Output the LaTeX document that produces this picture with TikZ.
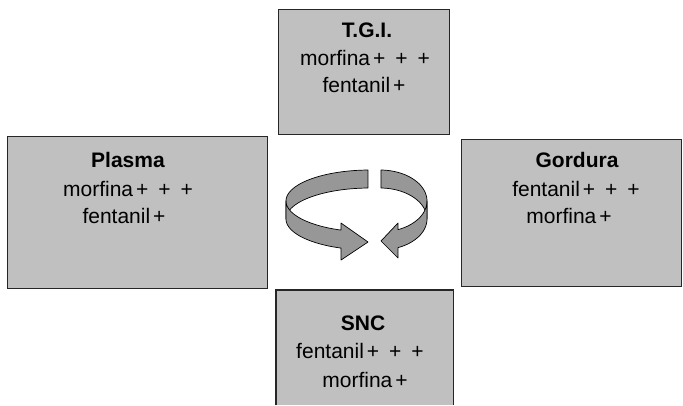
\documentclass[tikz,border=0pt]{standalone}
\usepackage{fontspec}
\setmainfont{Liberation Sans}
\definecolor{boxgray}{HTML}{C0C0C0}
\definecolor{arrgray}{HTML}{979797}
\begin{document}
\begin{tikzpicture}[x=1pt,y=-1pt,
  box/.style={rectangle, fill=boxgray, draw=black!85, line width=1.1pt, inner sep=0pt, anchor=north west},
  txt/.style={anchor=base, inner sep=0pt, font=\fontsize{21}{24}\selectfont},
  ttl/.style={txt, font=\fontsize{21}{24}\selectfont\bfseries},
  ribbon/.style={fill=arrgray, draw=black, line width=0.7pt, line join=round}]
\path[use as bounding box] (0,0) rectangle (683,405);
% boxes
\node[box, minimum width=171pt, minimum height=125pt] (tgi) at (278,9) {};
\node[box, minimum width=260pt, minimum height=152pt] (plasma) at (7,136) {};
\node[box, minimum width=220pt, minimum height=147pt] (gordura) at (461,139) {};
\node[rectangle, fill=boxgray, inner sep=0pt, anchor=north west, minimum width=177pt, minimum height=115pt] (snc) at (276,290) {};
\draw[draw=black!85, line width=1.1pt] (snc.south west) |- (snc.north east) -- (snc.south east);
% texts
\node[ttl] (tgiT) at (367,37) {T.G.I.};
\node[txt] (tgiA) at (365,65) {morfina\hspace{3pt}+\hspace{10pt}+\hspace{10pt}+};
\node[txt] (tgiB) at (364,92) {fentanil\hspace{3pt}+};
\node[ttl] (plT) at (128,167) {Plasma};
\node[txt] (plA) at (128,196) {morfina\hspace{3pt}+\hspace{10pt}+\hspace{10pt}+};
\node[txt] (plB) at (124,223) {fentanil\hspace{3pt}+};
\node[ttl] (goT) at (577,167) {Gordura};
\node[txt] (goA) at (576,196) {fentanil\hspace{3pt}+\hspace{10pt}+\hspace{10pt}+};
\node[txt] (goB) at (569,223) {morfina\hspace{3pt}+};
\node[ttl] (snT) at (363,330) {SNC};
\node[txt] (snA) at (360,358) {fentanil\hspace{3pt}+\hspace{10pt}+\hspace{10pt}+};
\node[txt] (snB) at (365,387) {morfina\hspace{3pt}+};
% left circular arrow (back part, then front part)
\filldraw[ribbon] plot[domain=91.4:180, samples=40] ({370+84*cos(\x)},{201-31*sin(\x)})
  -- plot[domain=180:91.4, samples=40] ({370+84*cos(\x)},{219-31*sin(\x)}) -- cycle;
\filldraw[ribbon] plot[domain=180:249.8, samples=40] ({370+84*cos(\x)},{201-31*sin(\x)})
  -- (341,223) -- (368,242) -- (341,260)
  -- plot[domain=249.8:180, samples=40] ({370+84*cos(\x)},{219-31*sin(\x)}) -- cycle;
% right circular arrow
\filldraw[ribbon] plot[domain=88.8:0, samples=40] ({380+47*cos(\x)},{201-31*sin(\x)})
  -- plot[domain=0:88.8, samples=40] ({380+47*cos(\x)},{219-31*sin(\x)}) -- cycle;
\filldraw[ribbon] plot[domain=360:292.5, samples=40] ({380+47*cos(\x)},{201-31*sin(\x)})
  -- (398,223) -- (381,241) -- (398,258)
  -- plot[domain=292.5:360, samples=40] ({380+47*cos(\x)},{219-31*sin(\x)}) -- cycle;
\end{tikzpicture}
\end{document}
